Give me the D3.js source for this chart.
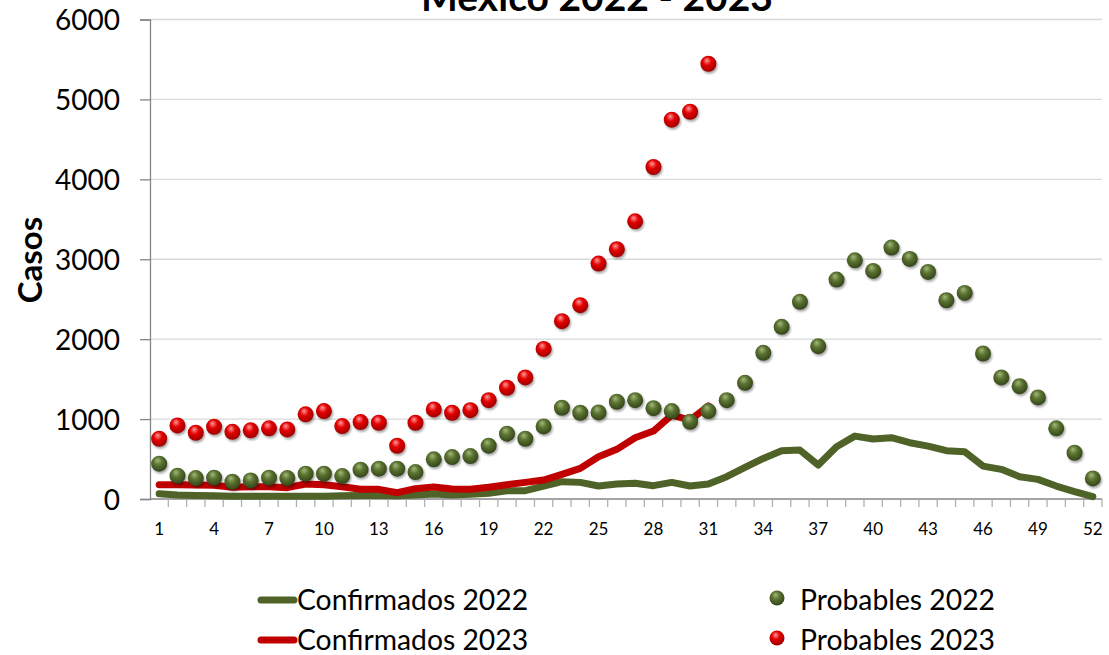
<!DOCTYPE html>
<html>
<head>
<meta charset="utf-8">
<script src="https://cdn.jsdelivr.net/npm/d3@7"></script>
<style>
  body { margin: 0; background: #fff; }
  text { font-family: Lato, "Open Sans", sans-serif; fill: #000; }
</style>
</head>
<body>
<svg id="chart" width="1109" height="655"></svg>
<script>
// Weekly cases, Mexico 2022 vs 2023 (weeks 1..52)

const weeks = d3.range(1, 53);
const weekLabels = [1, 4, 7, 10, 13, 16, 19, 22, 25, 28, 31, 34, 37, 40, 43, 46, 49, 52];
const yTicks = [0, 1000, 2000, 3000, 4000, 5000, 6000];

const confirmados2022 = [65, 50, 45, 40, 35, 35, 35, 35, 35, 35, 40, 45, 45, 40, 50, 62, 50, 58, 71, 104,
  104, 162, 217, 208, 162, 187, 196, 167, 208, 162, 187, 279, 396, 508, 604, 612, 425, 654, 787, 750,
  767, 704, 662, 604, 592, 412, 371, 279, 246, 162, 92, 29];

const confirmados2023 = [178, 179, 175, 171, 146, 154, 154, 142, 187, 179, 154, 121, 121, 79, 129, 150, 125, 121, 146, 179,
  208, 237, 308, 383, 529, 621, 767, 850, 1050, 987, 1165];

const probables2022 = [442, 292, 262, 267, 217, 233, 267, 262, 317, 317, 287, 367, 379, 379, 337, 496, 525, 537, 667, 817,
  754, 908, 1142, 1079, 1083, 1217, 1237, 1137, 1100, 967, 1100, 1237, 1454, 1829, 2154, 2467, 1912, 2746, 2987, 2854,
  3146, 3004, 2842, 2487, 2579, 1821, 1521, 1412, 1271, 884, 579, 258];

const probables2023 = [754, 921, 829, 904, 841, 859, 884, 871, 1059, 1100, 912, 962, 954, 666, 954, 1121, 1079, 1112, 1237, 1392,
  1521, 1878, 2225, 2425, 2946, 3125, 3475, 4154, 4746, 4846, 5446];

const green = "#4F6228";
const red = "#C00000";

const svg = d3.select("#chart");

const x = d3.scaleBand().domain(weeks).range([150, 1102]);
const y = d3.scaleLinear().domain([0, 6000]).range([499, 19.5]);
const cx = (w) => x(w) + x.bandwidth() / 2;

// sphere-like markers
const defs = svg.append("defs");

function sphere(id, light, mid, dark) {
  const g = defs.append("radialGradient").attr("id", id)
    .attr("cx", "45%").attr("cy", "40%").attr("r", "60%")
    .attr("fx", "40%").attr("fy", "28%");
  g.append("stop").attr("offset", "0%").attr("stop-color", light);
  g.append("stop").attr("offset", "45%").attr("stop-color", mid);
  g.append("stop").attr("offset", "100%").attr("stop-color", dark);
}
sphere("gGreen", "#a3b87a", "#5a7230", "#34451a");
sphere("gRed", "#ff9a9a", "#e30000", "#9e0000");

defs.append("filter").attr("id", "shadow")
  .append("feGaussianBlur").attr("stdDeviation", 1.2);

// gridlines
svg.append("g")
  .selectAll("line")
  .data(yTicks.filter(d => d > 0))
  .join("line")
  .attr("x1", 150).attr("x2", 1102)
  .attr("y1", d => y(d)).attr("y2", d => y(d))
  .attr("stroke", "#d9d9d9").attr("stroke-width", 1.3);

// y axis
const yAxis = svg.append("g")
  .attr("transform", "translate(150,0)")
  .call(d3.axisLeft(y).tickValues(yTicks).tickSize(10).tickPadding(20).tickFormat(d3.format("d")));
yAxis.select(".domain").attr("stroke", "#868686").attr("stroke-width", 1.3);
yAxis.selectAll(".tick line").attr("stroke", "#868686").attr("stroke-width", 1.3);
yAxis.selectAll(".tick text").attr("font-size", 28).attr("font-family", "Lato").attr("fill", "#000")
  .attr("dy", "0.36em");

// x axis: tick marks on band edges, labels every third week
const xAxisG = svg.append("g").attr("transform", "translate(0,499)");
xAxisG.append("line").attr("x1", 150).attr("x2", 1102).attr("stroke", "#868686").attr("stroke-width", 1.3);
xAxisG.selectAll("line.tk")
  .data(weeks)
  .join("line").attr("class", "tk")
  .attr("x1", d => x(d) + x.bandwidth()).attr("x2", d => x(d) + x.bandwidth())
  .attr("y1", 0).attr("y2", 8)
  .attr("stroke", "#b0b0b0").attr("stroke-width", 1.3);
xAxisG.selectAll("text")
  .data(weekLabels)
  .join("text")
  .attr("x", d => cx(d)).attr("y", 36)
  .attr("text-anchor", "middle")
  .attr("font-size", 17)
  .text(d => d);

// title (clipped at top like the original)
svg.append("text")
  .attr("x", 597).attr("y", 11)
  .attr("text-anchor", "middle")
  .attr("font-size", 39).attr("font-weight", "bold")
  .text("México 2022 - 2023");

// y label
svg.append("text")
  .attr("transform", "translate(42,260) rotate(-90)")
  .attr("text-anchor", "middle")
  .attr("font-size", 33).attr("font-weight", "bold")
  .text("Casos");

// lines
const line = d3.line().x((d, i) => cx(weeks[i])).y(d => y(d));

svg.append("path").datum(confirmados2022)
  .attr("d", line).attr("fill", "none")
  .attr("stroke", green).attr("stroke-width", 7)
  .attr("stroke-linejoin", "round").attr("stroke-linecap", "round");

svg.append("path").datum(confirmados2023)
  .attr("d", line).attr("fill", "none")
  .attr("stroke", red).attr("stroke-width", 7)
  .attr("stroke-linejoin", "round").attr("stroke-linecap", "round");

// dots
function dots(values, grad) {
  const g = svg.append("g");
  g.selectAll("circle.sh")
    .data(values).join("circle").attr("class", "sh")
    .attr("cx", (d, i) => cx(weeks[i]) + 1.2).attr("cy", d => y(d) + 2)
    .attr("r", 8).attr("fill", "rgba(0,0,0,0.35)")
    .attr("filter", "url(#shadow)");
  g.selectAll("circle.dot")
    .data(values).join("circle").attr("class", "dot")
    .attr("cx", (d, i) => cx(weeks[i])).attr("cy", d => y(d))
    .attr("r", 8).attr("fill", `url(#${grad})`);
}
dots(probables2022, "gGreen");
dots(probables2023, "gRed");

// legend
const legend = [
  {label: "Confirmados 2022", type: "line", color: green, lx: 258, ly: 600},
  {label: "Confirmados 2023", type: "line", color: red, lx: 258, ly: 640},
  {label: "Probables 2022", type: "dot", grad: "gGreen", lx: 777, ly: 598},
  {label: "Probables 2023", type: "dot", grad: "gRed", lx: 777, ly: 638}
];

legend.forEach(d => {
  if (d.type === "line") {
    svg.append("line")
      .attr("x1", d.lx + 3).attr("x2", d.lx + 36)
      .attr("y1", d.ly).attr("y2", d.ly)
      .attr("stroke", d.color).attr("stroke-width", 7).attr("stroke-linecap", "round");
    svg.append("text").attr("x", d.lx + 39).attr("y", d.ly + 10)
      .attr("font-size", 28.3).text(d.label);
  } else {
    svg.append("circle").attr("cx", d.lx).attr("cy", d.ly).attr("r", 7.5)
      .attr("fill", `url(#${d.grad})`);
    svg.append("text").attr("x", d.lx + 23).attr("y", d.ly + 12)
      .attr("font-size", 28.3).text(d.label);
  }
});
</script>
</body>
</html>
